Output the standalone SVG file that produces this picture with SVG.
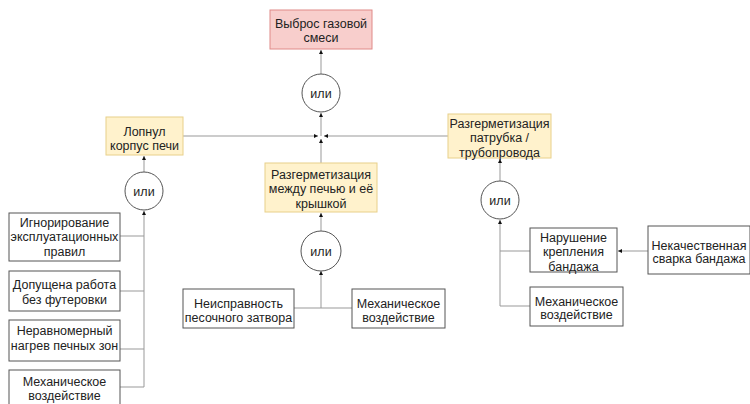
<svg xmlns="http://www.w3.org/2000/svg" width="750" height="404" viewBox="0 0 750 404">
<defs>
<marker id="ah" viewBox="0 0 6 6" refX="6" refY="3" markerWidth="4" markerHeight="4" orient="auto" markerUnits="userSpaceOnUse">
<path d="M0,0 L6,3 L0,6 Z" fill="#111"/>
</marker>
</defs>
<style>
text{font-family:"Liberation Sans",Arial,sans-serif;font-size:12.5px;fill:#222;text-anchor:middle}
.w{fill:#fff;stroke:#555;stroke-width:1}
.y{fill:#fff2cc;stroke:#e8d08a;stroke-width:1}
.p{fill:#f8cecc;stroke:#e08a88;stroke-width:1}
.c{fill:#fff;stroke:#555;stroke-width:1}
.l{fill:none;stroke:#999;stroke-width:1}
.a{marker-end:url(#ah)}
</style>
<rect width="750" height="404" fill="#fff"/>
<g id="connectors">
<path class="l a" d="M321,74 L321,50"/>
<path class="l a" d="M321,136 L321,113"/>
<path class="l a" d="M183,136 L318,136"/>
<path class="l a" d="M448,136 L324,136"/>
<path class="l a" d="M321,163 L321,139"/>
<path class="l a" d="M321,231 L321,213"/>
<path class="l a" d="M144,172 L144,156"/>
<path class="l a" d="M500,181 L500,159"/>
<path class="l a" d="M144,387 L144,211"/>
<path class="l" d="M120,236 L144,236 M120,291 L144,291 M120,349 L144,349 M120,387 L144,387"/>
<path class="l a" d="M321,308 L321,271"/>
<path class="l" d="M294,308 L352,308"/>
<path class="l a" d="M500,306 L500,220"/>
<path class="l" d="M500,251 L530,251 M500,306 L530,306"/>
<path class="l a" d="M648,251 L618,251"/>
</g>
<g id="n_top"><rect class="p" x="270" y="10" width="102" height="39"/><text x="321" y="27.5">Выброс газовой</text><text x="321" y="41.5">смеси</text></g>
<g id="or_top"><circle class="c" cx="321" cy="93" r="19"/><text x="321" y="97.5">или</text></g>
<g id="n_left"><rect class="y" x="106" y="117" width="77" height="38"/><text x="144.5" y="136">Лопнул</text><text x="144.5" y="149.5">корпус печи</text></g>
<g id="n_mid"><rect class="y" x="265" y="163" width="112" height="49"/><text x="321" y="178.5">Разгерметизация</text><text x="321" y="193">между печью и её</text><text x="321" y="207.5">крышкой</text></g>
<g id="n_right"><rect class="y" x="448" y="114" width="103" height="44"/><text x="499.5" y="127.5">Разгерметизация</text><text x="499.5" y="142">патрубка /</text><text x="499.5" y="156.5">трубопровода</text></g>
<g id="or_left"><circle class="c" cx="144" cy="191" r="19"/><text x="144" y="195.5">или</text></g>
<g id="or_mid"><circle class="c" cx="321" cy="251" r="20"/><text x="321" y="255.5">или</text></g>
<g id="or_right"><circle class="c" cx="500" cy="200" r="19"/><text x="500" y="204.5">или</text></g>
<g id="n_l1"><rect class="w" x="9" y="213" width="111" height="48"/><text x="64.5" y="226.5">Игнорирование</text><text x="64.5" y="241">эксплуатационных</text><text x="64.5" y="256">правил</text></g>
<g id="n_l2"><rect class="w" x="9" y="271" width="111" height="40"/><text x="64.5" y="288.5">Допущена работа</text><text x="64.5" y="304">без футеровки</text></g>
<g id="n_l3"><rect class="w" x="9" y="320" width="111" height="41"/><text x="64.5" y="334.5">Неравномерный</text><text x="64.5" y="349.5">нагрев печных зон</text></g>
<g id="n_l4"><rect class="w" x="9" y="370" width="111" height="40"/><text x="64.5" y="386">Механическое</text><text x="64.5" y="400">воздействие</text></g>
<g id="n_m1"><rect class="w" x="183" y="289" width="111" height="39"/><text x="238.5" y="307.5">Неисправность</text><text x="238.5" y="321.5">песочного затвора</text></g>
<g id="n_m2"><rect class="w" x="352" y="289" width="93" height="39"/><text x="398.5" y="307.5">Механическое</text><text x="398.5" y="321.5">воздействие</text></g>
<g id="n_r1"><rect class="w" x="530" y="228" width="87" height="44"/><text x="573.5" y="241.5">Нарушение</text><text x="573.5" y="256">крепления</text><text x="573.5" y="270.5">бандажа</text></g>
<g id="n_r2"><rect class="w" x="648" y="226" width="102" height="48"/><text x="699" y="249.5">Некачественная</text><text x="699" y="263">сварка бандажа</text></g>
<g id="n_r3"><rect class="w" x="530" y="287" width="93" height="39"/><text x="576.5" y="305.5">Механическое</text><text x="576.5" y="319">воздействие</text></g>
</svg>
